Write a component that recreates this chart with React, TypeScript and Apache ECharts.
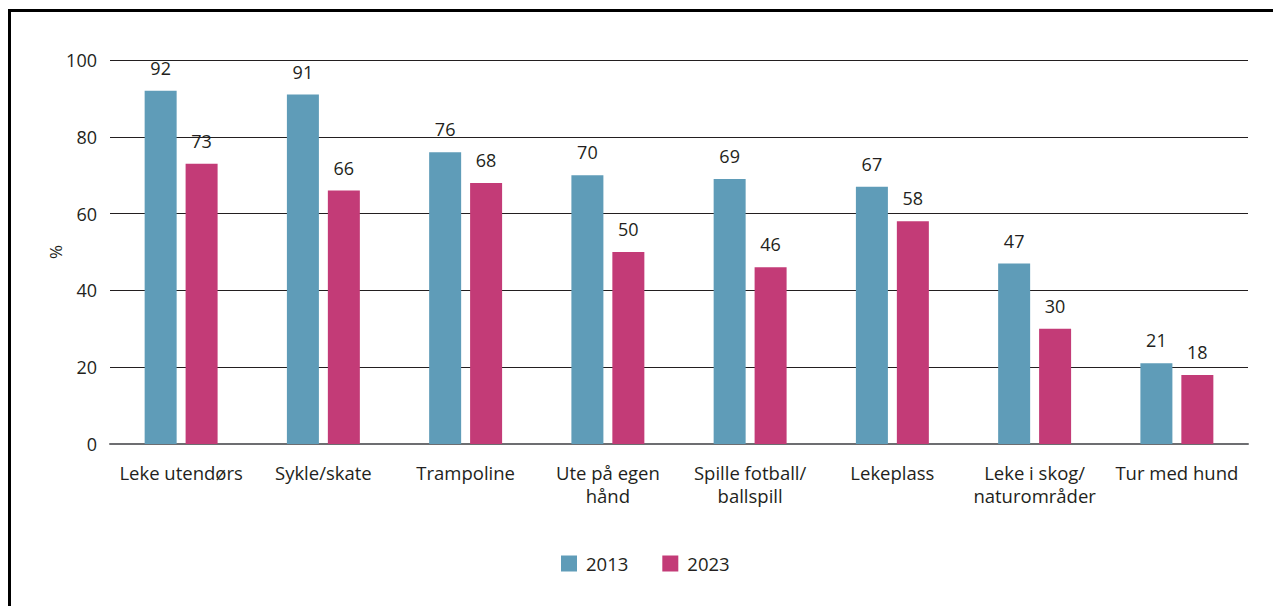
import React, { useEffect, useRef } from "react";
import * as echarts from "echarts";

const categories = [
  "Leke utendørs",
  "Sykle/skate",
  "Trampoline",
  "Ute på egen\nhånd",
  "Spille fotball/\nballspill",
  "Lekeplass",
  "Leke i skog/\nnaturområder",
  "Tur med hund",
];
const values2013 = [92, 91, 76, 70, 69, 67, 47, 21];
const values2023 = [73, 66, 68, 50, 46, 58, 30, 18];
const seriesNames = ["2013", "2023"];
const yTicks = { min: 0, max: 100, interval: 20 };

const FONT = "Open Sans";
const TEXT = "#231f20";

export default function App() {
  const ref = useRef<HTMLDivElement>(null);
  useEffect(() => {
    if (!ref.current) return;
    const chart = echarts.init(ref.current, undefined, { renderer: "svg" });
    const label = {
      show: true,
      position: "top",
      distance: 14,
      color: TEXT,
      fontSize: 18,
      fontFamily: FONT,
    };
    chart.setOption({
      animation: false,
      textStyle: { fontFamily: FONT, color: TEXT },
      grid: { left: 110, right: 25, top: 60, bottom: 162 },
      legend: {
        data: seriesNames,
        bottom: 33,
        left: 561,
        padding: 0,
        itemWidth: 16,
        itemHeight: 16,
        itemGap: 34,
        icon: "rect",
        textStyle: { fontSize: 18.5, color: TEXT, fontFamily: FONT, padding: [0, 0, 0, 4] },
      },
      xAxis: {
        type: "category",
        data: categories,
        axisTick: { show: false },
        axisLine: { lineStyle: { color: "#6d6e71", width: 2 } },
        axisLabel: {
          interval: 0,
          margin: 17,
          fontSize: 18.5,
          lineHeight: 23,
          color: TEXT,
          fontFamily: FONT,
        },
      },
      yAxis: {
        type: "value",
        min: yTicks.min,
        max: yTicks.max,
        interval: yTicks.interval,
        name: "%",
        nameLocation: "middle",
        nameGap: 46,
        nameMoveOverlap: false,
        nameRotate: 90,
        nameTextStyle: { fontSize: 17, color: TEXT, fontFamily: FONT },
        axisLine: { show: false },
        axisTick: { show: false },
        axisLabel: { margin: 13, fontSize: 18, color: TEXT, fontFamily: FONT },
        splitLine: { lineStyle: { color: "#231f20", width: 1 } },
      },
      series: [
        {
          name: seriesNames[0],
          type: "bar",
          data: values2013,
          barWidth: 32,
          barGap: "28%",
          itemStyle: { color: "#5f9cb8" },
          label,
        },
        {
          name: seriesNames[1],
          type: "bar",
          data: values2023,
          barWidth: 32,
          itemStyle: { color: "#c33b77" },
          label,
        },
      ],
    });
    return () => chart.dispose();
  }, []);
  return (
    <>
      <div
        ref={ref}
        style={{ position: "fixed", left: 0, top: 0, width: 1273, height: 606, background: "#fff" }}
      />
      <div
        style={{
          position: "fixed",
          left: 8,
          top: 9,
          width: 1265,
          height: 597,
          borderLeft: "3px solid #000",
          borderTop: "3px solid #000",
          boxSizing: "border-box",
          pointerEvents: "none",
        }}
      />
    </>
  );
}
